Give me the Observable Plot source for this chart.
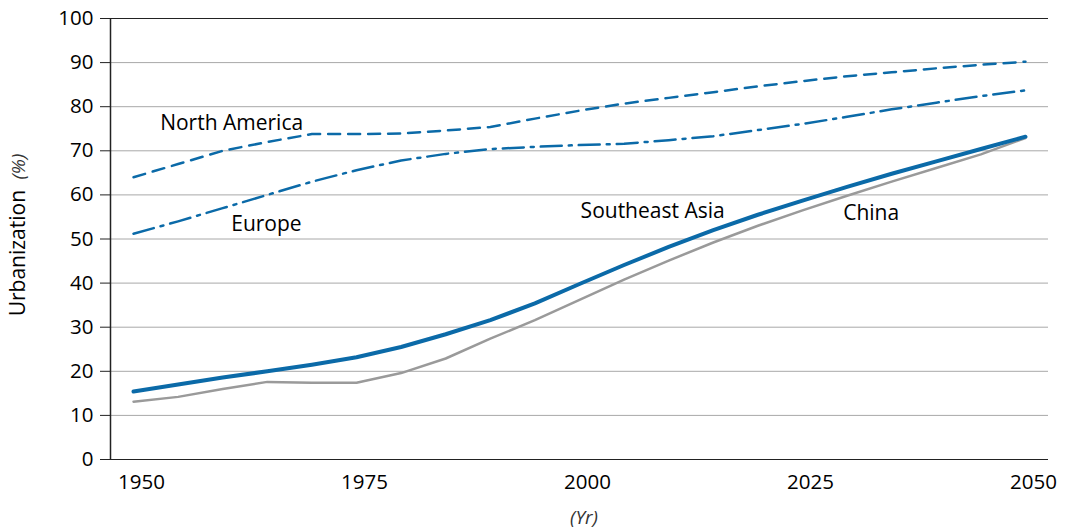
<!DOCTYPE html>
<html>
<head>
<meta charset="utf-8">
<script src="https://cdn.jsdelivr.net/npm/d3@7"></script>
<script src="https://cdn.jsdelivr.net/npm/@observablehq/plot@0.6"></script>
<style>
  html, body { margin: 0; padding: 0; background: #fff; }
  #chart { width: 1071px; height: 532px; }
</style>
</head>
<body>
<div id="chart"></div>
<script>
const years = [1950,1955,1960,1965,1970,1975,1980,1985,1990,1995,2000,2005,2010,2015,2020,2025,2030,2035,2040,2045,2050];
const northAmerica = [64.0,67.0,70.0,72.0,73.8,73.8,73.9,74.6,75.4,77.3,79.1,80.7,82.0,83.3,84.6,85.8,86.9,87.8,88.7,89.5,90.2];
const europe = [51.2,54.0,57.0,60.0,63.0,65.6,67.8,69.3,70.4,70.9,71.3,71.6,72.4,73.3,74.7,76.1,77.7,79.4,80.9,82.4,83.7];
const southeastAsia = [15.4,17.0,18.6,20.0,21.5,23.2,25.5,28.4,31.6,35.4,39.8,44.1,48.2,52.0,55.5,58.7,61.8,64.8,67.6,70.4,73.2];
const china = [13.1,14.2,16.0,17.6,17.4,17.4,19.6,22.9,27.4,31.6,36.2,40.8,45.1,49.2,53.0,56.5,59.8,63.0,66.1,69.2,72.9];
const xTicks = [1950,1975,2000,2025,2050];
const yTicks = [0,10,20,30,40,50,60,70,80,90,100];
const labelNames = ["North America","Europe","Southeast Asia","China"];
const labelYears = [1961,1964.9,2008.2,2032.7];
const labelValues = [76.2,53.3,56.2,55.8];

const BLUE = "#0b6aa8";
const GRAY = "#9a9a9a";
const FONT = "'Open Sans', 'Noto Sans', sans-serif";

const toRows = vals => years.map((y, i) => ({year: y, value: vals[i]}));
const labels = labelNames.map((n, i) => ({name: n, year: labelYears[i], value: labelValues[i]}));

const xDomain = [1947.42, 2052.58];

const chart = Plot.plot({
  width: 1071,
  height: 532,
  marginLeft: 110,
  marginRight: 23,
  marginTop: 18,
  marginBottom: 73,
  style: {fontFamily: FONT, fontSize: "21px", color: "#000", background: "#fff"},
  x: {domain: xDomain, label: null},
  y: {domain: [0, 100], label: null},
  marks: [
    Plot.gridY(yTicks.filter(t => t > 0 && t < 100), {stroke: "#a8a8a8", strokeOpacity: 1, strokeWidth: 1}),
    Plot.ruleY([0, 100], {stroke: "#222", strokeWidth: 1}),
    Plot.ruleX([xDomain[0]], {stroke: "#222", strokeWidth: 1.5}),
    Plot.axisY(yTicks, {tickSize: 10, tickPadding: 7, fontSize: 20.5, stroke: "#222", fill: "#000", label: null}),
    Plot.axisX(xTicks, {tickSize: 0, tickPadding: 15, dx: 8, fontSize: 20.5, fill: "#000", label: null, tickFormat: d => String(d)}),
    Plot.line(toRows(china), {x: "year", y: "value", stroke: GRAY, strokeWidth: 2.5}),
    Plot.line(toRows(southeastAsia), {x: "year", y: "value", stroke: BLUE, strokeWidth: 4}),
    Plot.line(toRows(northAmerica), {x: "year", y: "value", stroke: BLUE, strokeWidth: 2.5, strokeDasharray: "12,8"}),
    Plot.line(toRows(europe), {x: "year", y: "value", stroke: BLUE, strokeWidth: 2.5, strokeDasharray: "21,7,3,7"}),
    Plot.text(labels, {x: "year", y: "value", text: "name", fontSize: 21, fill: "#000"})
  ]
});

const svg = d3.select(chart);
const ylab = svg.append("text")
  .attr("transform", "translate(25,235) rotate(-90)")
  .attr("text-anchor", "middle")
  .attr("font-family", FONT)
  .attr("font-size", 21)
  .attr("fill", "#000");
ylab.append("tspan").text("Urbanization ");
ylab.append("tspan").attr("font-style", "italic").attr("font-size", 19).attr("fill", "#333").text(" (%)");

svg.append("text")
  .attr("x", 584).attr("y", 524)
  .attr("text-anchor", "middle")
  .attr("font-family", FONT)
  .attr("font-size", 19)
  .attr("font-style", "italic")
  .attr("fill", "#333")
  .text("(Yr)");

document.getElementById("chart").appendChild(chart);
</script>
</body>
</html>
